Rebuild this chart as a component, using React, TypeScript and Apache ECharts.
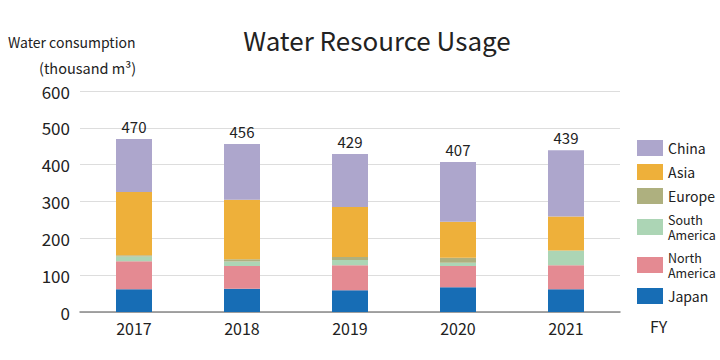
import React, { useEffect, useRef } from "react";
import * as echarts from "echarts";

const years = ["2017", "2018", "2019", "2020", "2021"];
const japan = [62, 63, 59, 67, 62];
const northAmerica = [76, 62, 68, 58, 65];
const southAmerica = [13, 12, 14, 9, 39];
const europe = [3, 6, 8, 13, 1];
const asia = [172, 162, 136, 98, 92];
const china = [144, 151, 144, 162, 180];
const totals = [470, 456, 429, 407, 439];
const yTicks = [0, 100, 200, 300, 400, 500, 600];

const FONT = "'Noto Sans CJK JP', 'Noto Sans', sans-serif";

export default function App() {
  const ref = useRef<HTMLDivElement>(null);
  useEffect(() => {
    document.body.style.margin = "0";
    if (!ref.current) return;
    const chart = echarts.init(ref.current, null, { renderer: "svg" });
    const mk = (name: string, data: number[], color: string, extra: any = {}) => ({
      name,
      type: "bar",
      stack: "total",
      barWidth: 36,
      data,
      itemStyle: { color },
      ...extra,
    });
    chart.setOption({
      animation: false,
      textStyle: { fontFamily: FONT },
      title: {
        text: "Water Resource Usage",
        left: 372,
        top: 21,
        textAlign: "center",
        textStyle: { fontSize: 26, fontWeight: "normal", color: "#222", fontFamily: FONT },
      },
      grid: { left: 80, right: 100, top: 91, bottom: 48 },
      legend: {
        orient: "vertical",
        top: 140,
        left: 637,
        padding: 0,
        itemWidth: 26,
        itemHeight: 16,
        itemGap: 8,
        icon: "rect",
        selectedMode: false,
        formatter: (name: string) =>
          name.includes("\n") ? name.split("\n").map((s) => `{s|${s}}`).join("\n") : name,
        textStyle: {
          fontSize: 14,
          color: "#222",
          lineHeight: 16,
          fontFamily: FONT,
          rich: { s: { fontSize: 12.5, lineHeight: 15, color: "#222", fontFamily: FONT } },
        },
        data: ["China", "Asia", "Europe", "South\nAmerica", "North\nAmerica", "Japan"],
      },
      xAxis: {
        type: "category",
        data: years,
        axisLine: { lineStyle: { color: "#888", width: 1.5 } },
        axisTick: { show: false },
        axisLabel: { fontSize: 16, color: "#222", margin: 8 },
      },
      yAxis: {
        type: "value",
        min: 0,
        max: 600,
        interval: 100,
        axisLine: { show: false },
        axisTick: { show: false },
        axisLabel: { fontSize: 17, color: "#222", margin: 10 },
        splitLine: { lineStyle: { color: "#dddddd" } },
      },
      graphic: [
        { type: "text", left: 8, top: 35, style: { text: "Water consumption", fontSize: 14, fill: "#222", fontFamily: FONT } },
        { type: "text", left: 39, top: 60, style: { text: "(thousand m³)", fontSize: 14.5, fill: "#222", fontFamily: FONT } },
        { type: "text", left: 650, top: 318, style: { text: "FY", fontSize: 16, fill: "#222", fontFamily: FONT } },
      ],
      series: [
        mk("Japan", japan, "#176db5"),
        mk("North\nAmerica", northAmerica, "#e48a92"),
        mk("South\nAmerica", southAmerica, "#acd5b5"),
        mk("Europe", europe, "#aeb07f"),
        mk("Asia", asia, "#eeb03a"),
        mk("China", china, "#ada6cc", {
          label: {
            show: true,
            position: "top",
            distance: 5,
            fontSize: 15,
            color: "#222",
            formatter: (p: any) => String(totals[p.dataIndex]),
          },
        }),
      ],
    });
    return () => chart.dispose();
  }, []);
  return <div ref={ref} style={{ width: 720, height: 360 }} />;
}
